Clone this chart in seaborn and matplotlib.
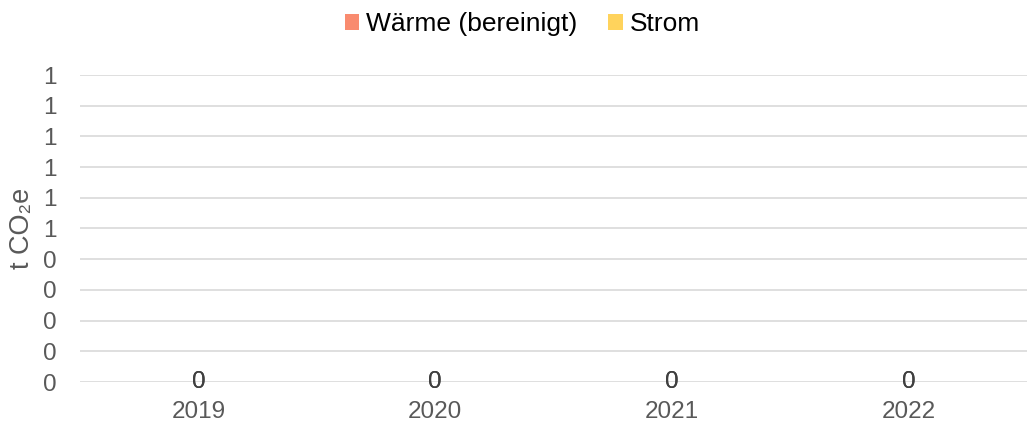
import numpy as np
import matplotlib
matplotlib.use("Agg")
import matplotlib.pyplot as plt
import seaborn as sns
from matplotlib.ticker import FuncFormatter, MultipleLocator

years = ["2019", "2020", "2021", "2022"]
waerme = [0, 0, 0, 0]
strom = [0, 0, 0, 0]

sns.set_style("white")
plt.rcParams["font.family"] = ["Liberation Sans", "DejaVu Sans"]

fig = plt.figure(figsize=(10.27, 4.23), dpi=100)
ax = fig.add_axes([80 / 1027, 1 - 382 / 423, 947 / 1027, 307 / 423])

sns.barplot(x=years, y=waerme, color="#F98B6F", saturation=1, width=0.6, ax=ax,
            label="Wärme (bereinigt)", linewidth=0, zorder=3)
sns.barplot(x=years, y=strom, bottom=waerme, color="#FFD35C", saturation=1, width=0.6, ax=ax,
            label="Strom", linewidth=0, zorder=3)

for cont in ax.containers:
    ax.bar_label(cont, labels=[f"{v:.0f}" for v in cont.datavalues],
                 label_type="center", fontsize=17.5, color="#404040")

ax.set_ylim(0, 1)
ax.yaxis.set_major_locator(MultipleLocator(0.1))
ax.yaxis.set_major_formatter(FuncFormatter(lambda v, p: str(int(np.floor(v + 0.5 + 1e-9)))))
ax.grid(axis="y", color="#D9D9D9", linewidth=1.2, zorder=0)
ax.set_axisbelow(True)
for s in ax.spines.values():
    s.set_visible(False)
ax.tick_params(axis="both", length=0, labelsize=17.5, labelcolor="#595959")
ax.tick_params(axis="y", pad=16.5)
ax.tick_params(axis="x", pad=14)
ax.set_xlabel("")
ax.set_ylabel("t CO₂e", fontsize=19.5, color="#595959")
ax.yaxis.set_label_coords(-0.0475, 0.5)

ax.legend(loc="center", bbox_to_anchor=(0.467, 1.165), ncol=2, frameon=False,
          fontsize=19, handlelength=0.55, handleheight=0.55, handletextpad=0.25,
          columnspacing=1.18, labelcolor="black")

fig.savefig("out.png", dpi=100)
